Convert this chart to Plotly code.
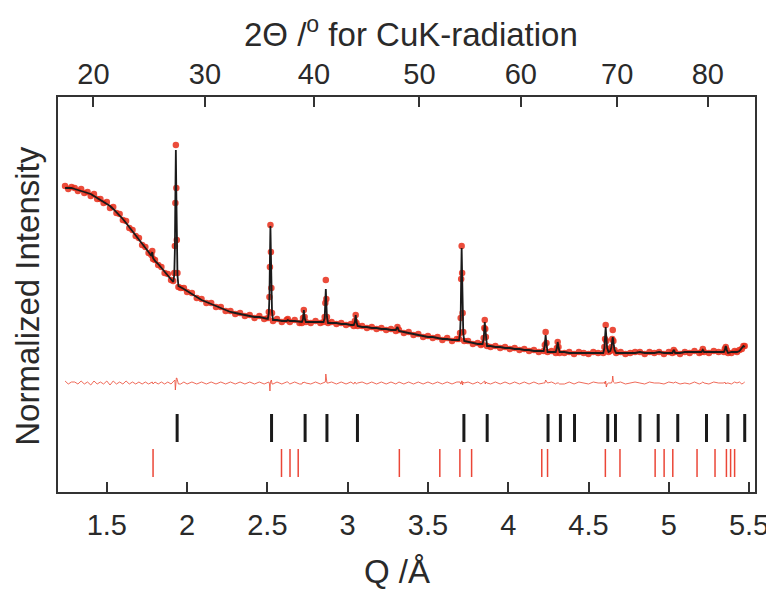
import numpy as np
import plotly.graph_objects as go

# ---------------- data ----------------
q = [
    1.240, 1.260, 1.280, 1.300, 1.320, 1.340, 1.360, 1.380, 1.400, 1.420, 1.440, 1.460, 1.480, 1.500,
    1.520, 1.540, 1.560, 1.580, 1.600, 1.620, 1.640, 1.660, 1.680, 1.700, 1.720, 1.740, 1.760,
    1.778, 1.783, 1.788, 1.800, 1.820, 1.840, 1.860, 1.880, 1.900, 1.914,
    1.920, 1.924, 1.927, 1.930, 1.933, 1.936, 1.940, 1.946,
    1.960, 1.980, 2.000, 2.030, 2.060, 2.090, 2.120, 2.150, 2.180, 2.210, 2.240, 2.270, 2.300, 2.330,
    2.360, 2.390, 2.420, 2.450, 2.480, 2.503,
    2.509, 2.513, 2.516, 2.519, 2.522, 2.525, 2.529, 2.535,
    2.560, 2.590, 2.620, 2.627, 2.640, 2.670, 2.700, 2.715,
    2.722, 2.727, 2.732, 2.740,
    2.770, 2.800, 2.830, 2.850,
    2.857, 2.861, 2.864, 2.867, 2.871, 2.878,
    2.900, 2.930, 2.960, 2.990, 3.020, 3.038,
    3.045, 3.050, 3.055, 3.062,
    3.090, 3.120, 3.150, 3.180, 3.210, 3.240, 3.270, 3.300, 3.310, 3.320, 3.350, 3.380, 3.410, 3.440,
    3.470, 3.500, 3.530, 3.560, 3.590, 3.620, 3.650, 3.680, 3.694,
    3.700, 3.704, 3.707, 3.710, 3.713, 3.716, 3.720, 3.726,
    3.750, 3.780, 3.810, 3.830, 3.840,
    3.847, 3.851, 3.854, 3.857, 3.861, 3.868,
    3.890, 3.920, 3.950, 3.980, 4.010, 4.040, 4.070, 4.100, 4.130, 4.160, 4.190, 4.221,
    4.228, 4.233, 4.238, 4.245,
    4.270, 4.296,
    4.303, 4.308, 4.313, 4.320,
    4.350, 4.380, 4.410, 4.440, 4.470, 4.500, 4.530, 4.560, 4.592,
    4.599, 4.603, 4.607, 4.611, 4.616, 4.625, 4.636, 4.643, 4.648, 4.651, 4.655, 4.662, 4.672,
    4.700, 4.730, 4.760, 4.790, 4.820, 4.850, 4.880, 4.910, 4.940, 4.970, 5.000, 5.022, 5.031,
    5.040, 5.070, 5.100, 5.130, 5.160, 5.190, 5.204, 5.212, 5.220, 5.250, 5.280, 5.310, 5.343,
    5.349, 5.355, 5.361, 5.369, 5.390, 5.410, 5.425, 5.440, 5.455, 5.465, 5.473,
]

i_calc = [
    195, 195, 195, 194, 193, 192, 191, 190, 189, 187, 185, 183, 181, 179,
    177, 174, 171, 168, 164, 160, 156, 152, 148, 144, 139, 135, 131,
    127, 131, 125, 122, 119, 115, 111, 108, 104, 101,
    108, 134, 187, 233, 190, 138, 108, 97,
    96, 94, 92, 89, 86, 83, 81, 79, 77, 75, 73, 71, 70, 69,
    68, 67, 66, 66, 65, 64,
    70, 87, 124, 157, 129, 92, 71, 63,
    63, 62, 62, 63, 62, 62, 61, 61,
    64, 73, 65, 61,
    61, 61, 61, 61,
    65, 79, 94, 81, 66, 60,
    60, 60, 59, 59, 58, 58,
    61, 68, 61, 57,
    56, 56, 55, 55, 54, 54, 53, 53, 56, 52, 51, 50, 49, 48,
    47, 46, 46, 45, 44, 44, 43, 43, 43,
    49, 66, 105, 135, 108, 72, 50, 42,
    41, 40, 39, 39, 39,
    44, 54, 61, 55, 45, 37,
    37, 36, 36, 35, 35, 34, 34, 33, 33, 32, 32, 32,
    38, 48, 39, 31,
    31, 31,
    35, 41, 36, 31,
    31, 30, 30, 30, 30, 30, 30, 30, 30,
    35, 45, 56, 46, 35, 31, 32, 36, 42, 46, 41, 33, 30,
    30, 30, 30, 30, 31, 30, 30, 30, 31, 30, 30, 30, 33,
    30, 30, 31, 31, 31, 31, 31, 33, 31, 31, 31, 31, 31,
    33, 37, 33, 30, 31, 31, 31, 32, 35, 37, 36,
]

i_obs = [
    197, 194, 196, 195, 192, 194, 190, 191, 187, 189, 184, 184, 180, 181,
    175, 176, 170, 169, 163, 162, 155, 153, 147, 145, 138, 136, 130,
    128, 132, 124, 123, 118, 116, 110, 109, 103, 102,
    110, 137, 180, 238, 195, 143, 110, 96,
    95, 95, 91, 90, 85, 84, 80, 80, 76, 76, 72, 72, 69, 70,
    67, 68, 65, 67, 64, 65,
    71, 86, 116, 158, 131, 95, 70, 62,
    64, 61, 63, 64, 61, 63, 60, 60,
    65, 73, 66, 61,
    60, 62, 60, 61,
    66, 80, 103, 84, 66, 60,
    61, 59, 60, 58, 59, 57,
    62, 68, 60, 57,
    57, 55, 56, 54, 55, 53, 54, 52, 56, 53, 50, 51, 48, 49,
    46, 47, 45, 46, 43, 45, 42, 44, 44,
    50, 65, 104, 137, 110, 70, 51, 42,
    42, 39, 40, 38, 39,
    45, 55, 63, 54, 46, 37,
    36, 37, 35, 36, 34, 35, 33, 34, 32, 33, 31, 32,
    38, 51, 40, 31,
    32, 30,
    35, 41, 36, 30,
    30, 31, 29, 31, 30, 29, 31, 30, 30,
    36, 44, 58, 42, 34, 31, 32, 36, 44, 53, 42, 33, 30,
    31, 29, 30, 31, 31, 29, 31, 30, 31, 29, 31, 30, 33,
    31, 29, 31, 30, 32, 30, 31, 34, 31, 30, 32, 31, 31,
    34, 36, 33, 30, 30, 32, 31, 33, 34, 37, 37,
]

# Bragg reflection positions (Q, 1/Å)
ticks_phase1 = [1.938, 2.526, 2.735, 2.871, 3.061, 3.724, 3.869, 4.248, 4.325, 4.413,
                4.620, 4.668, 4.821, 4.934, 5.056, 5.235, 5.368, 5.473]
ticks_phase2 = [1.788, 2.588, 2.641, 2.692, 3.322, 3.574, 3.699, 3.772, 4.209, 4.245,
                4.605, 4.696, 4.915, 4.971, 5.025, 5.176, 5.288, 5.359, 5.385, 5.410]

q_ticks = [1.5, 2.0, 2.5, 3.0, 3.5, 4.0, 4.5, 5.0, 5.5]
q_ticktext = ["1.5", "2", "2.5", "3", "3.5", "4", "4.5", "5", "5.5"]
two_theta_ticks = [20, 30, 40, 50, 60, 70, 80]
wavelength_cuka = 1.5406  # Å

# ---------------- derived ----------------
q_arr = np.array(q)
diff = np.array(i_obs) - np.array(i_calc)
q_of_2theta = [4 * np.pi * np.sin(np.radians(t / 2.0)) / wavelength_cuka for t in two_theta_ticks]

RED = "rgba(232,45,25,0.85)"
DIFF_RED = "rgba(236,80,60,0.85)"
TICK_RED = "rgba(235,70,55,1)"
DARK = "#2a2a2a"
FONT = "Liberation Sans, Arial, sans-serif"

fig = go.Figure()

fig.add_trace(go.Scatter(x=q_arr, y=i_obs, mode="markers",
                         marker=dict(size=6.5, color=RED), name="observed"))
fig.add_trace(go.Scatter(x=q_arr, y=i_calc, mode="lines",
                         line=dict(color="#1a1a1a", width=1.8), name="calculated"))
fig.add_trace(go.Scatter(x=q_arr, y=diff, mode="lines",
                         line=dict(color=DIFF_RED, width=1), name="difference"))
fig.add_trace(go.Scatter(x=ticks_phase1, y=[-45] * len(ticks_phase1), mode="markers",
                         marker=dict(symbol="line-ns", size=20,
                                     line=dict(color="#1a1a1a", width=3)),
                         name="phase 1"))
fig.add_trace(go.Scatter(x=ticks_phase2, y=[-80] * len(ticks_phase2), mode="markers",
                         marker=dict(symbol="line-ns", size=20,
                                     line=dict(color=TICK_RED, width=1.5)),
                         name="phase 2"))
# carrier for the top (2-theta) axis
fig.add_trace(go.Scatter(x=[None], y=[None], xaxis="x2", showlegend=False, hoverinfo="skip"))

xr = [1.196, 5.537]
# the page body has an 8 px margin, so the figure is offset by 8 px inside the window
fig.update_layout(
    width=766, height=582,
    margin=dict(l=50, r=19, t=89, b=98),
    paper_bgcolor="white", plot_bgcolor="white",
    showlegend=False,
    font=dict(family=FONT, size=29, color=DARK),
    xaxis=dict(range=xr, tickvals=q_ticks, ticktext=q_ticktext,
               ticks="inside", ticklen=10, tickwidth=2, tickcolor="#333",
               showline=True, linewidth=2, linecolor="#333", mirror=True,
               showgrid=False, zeroline=False, automargin=False,
               ticklabeloverflow="allow",
               tickfont=dict(family=FONT, size=29, color=DARK), ticklabelstandoff=6),
    xaxis2=dict(range=xr, overlaying="x", side="top", anchor="y",
                tickvals=q_of_2theta, ticktext=[str(t) for t in two_theta_ticks],
                ticks="inside", ticklen=10, tickwidth=2, tickcolor="#333",
                showline=False, showgrid=False, zeroline=False, automargin=False,
                ticklabeloverflow="allow",
                tickfont=dict(family=FONT, size=29, color=DARK), ticklabelstandoff=6),
    yaxis=dict(range=[-109, 286], showticklabels=False, ticks="",
               showline=True, linewidth=2, linecolor="#333", mirror=True,
               showgrid=False, zeroline=False, automargin=False),
    annotations=[
        dict(text="Q /Å", xref="paper", yref="paper", x=0.486, y=-0.200,
             xanchor="center", yanchor="middle", showarrow=False,
             font=dict(family=FONT, size=33, color=DARK)),
        dict(text="2Θ /<sup>o</sup> for CuK-radiation", xref="paper", yref="paper",
             x=0.506, y=1.165, xanchor="center", yanchor="middle", showarrow=False,
             font=dict(family=FONT, size=33, color=DARK)),
        dict(text="Normalized Intensity", xref="paper", yref="paper", x=-0.045, y=0.496,
             xanchor="center", yanchor="middle", textangle=-90, showarrow=False,
             font=dict(family=FONT, size=33, color=DARK)),
    ],
)

fig.write_html("out.html")
